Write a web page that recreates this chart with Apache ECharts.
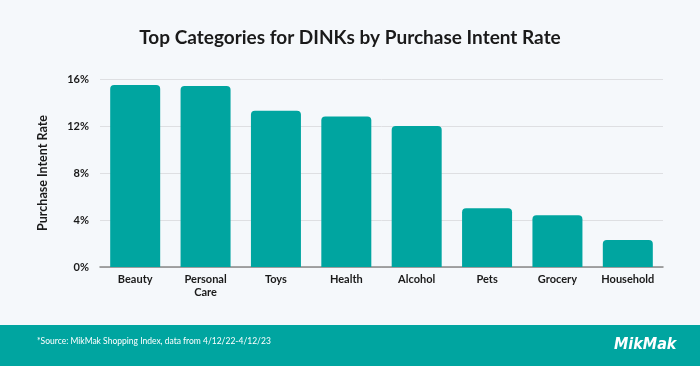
<!DOCTYPE html>
<html>
<head>
<meta charset="utf-8">
<script src="https://cdn.jsdelivr.net/npm/echarts@6/dist/echarts.min.js"></script>
<style>
html,body{margin:0;padding:0;background:#f5f8fb;}
#c{width:700px;height:366px;}
</style>
</head>
<body>
<div id="c"></div>
<script>
const categories = ['Beauty', 'Personal\nCare', 'Toys', 'Health', 'Alcohol', 'Pets', 'Grocery', 'Household'];
const purchaseIntent = [15.5, 15.4, 13.3, 12.8, 12.0, 5.0, 4.4, 2.3];
const yTicks = [0, 4, 8, 12, 16];
const titleText = 'Top Categories for DINKs by Purchase Intent Rate';
const sourceText = '*Source: MikMak Shopping Index, data from 4/12/22-4/12/23';
const logoText = 'MikMak';

const teal = '#00a5a0';
const chart = echarts.init(document.getElementById('c'), null, {renderer: 'canvas'});
chart.setOption({
  backgroundColor: '#f5f8fb',
  animation: false,
  title: {
    text: titleText,
    left: 'center',
    top: 23,
    textStyle: {fontFamily: 'Lato', fontWeight: 'bold', fontSize: 19, color: '#1a1a1a'}
  },
  grid: {left: 100, right: 37, top: 79, bottom: 99, containLabel: false},
  xAxis: {
    type: 'category',
    data: categories,
    axisLine: {lineStyle: {color: '#888888', width: 1.5}},
    axisTick: {show: false},
    axisLabel: {
      fontFamily: 'Lato', fontWeight: 'bold', fontSize: 11, color: '#1a1a1a',
      margin: 6, lineHeight: 13, interval: 0
    }
  },
  yAxis: {
    type: 'value',
    min: yTicks[0],
    max: yTicks[yTicks.length - 1],
    interval: 4,
    name: 'Purchase Intent Rate',
    nameLocation: 'middle',
    nameGap: 51,
    nameTextStyle: {fontFamily: 'Lato', fontWeight: 'bold', fontSize: 12.5, color: '#1a1a1a'},
    axisLine: {show: false},
    axisTick: {show: false},
    splitLine: {lineStyle: {color: '#dedfe2', width: 1}},
    axisLabel: {
      fontFamily: 'Lato', fontWeight: 'bold', fontSize: 11, color: '#1a1a1a',
      margin: 11,
      formatter: v => v + '%'
    }
  },
  series: [{
    type: 'bar',
    data: purchaseIntent,
    barWidth: 50,
    itemStyle: {color: teal, borderRadius: [4, 4, 0, 0]},
    silent: true
  }],
  graphic: [
    {type: 'rect', left: 0, top: 325, shape: {width: 700, height: 41}, style: {fill: teal}, z: 0},
    {type: 'text', left: 37, top: 337, style: {text: sourceText, fill: '#ffffff', font: '8.5px Lato'}, z: 1},
    {type: 'text', left: 614, top: 337, style: {text: logoText, fill: '#ffffff', font: 'italic bold 16px "DejaVu Sans Condensed", Lato'}, z: 1}
  ]
});
</script>
</body>
</html>
